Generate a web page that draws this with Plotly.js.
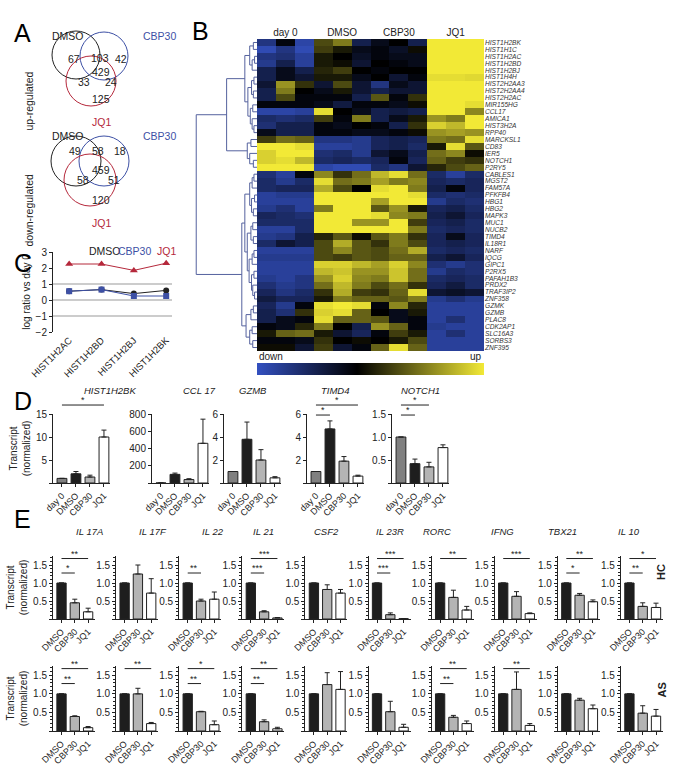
<!DOCTYPE html>
<html>
<head>
<meta charset="utf-8">
<script src="https://cdn.plot.ly/plotly-3.0.1.min.js"></script>
<style>
  body { margin: 0; background: #fff; }
  #fig { width: 677px; height: 766px; }
</style>
</head>
<body>
<div id="fig"></div>
<script>
// ---------- values ----------

// A: Venn counts. order: DMSO only, CBP30 only, JQ1 only, DMSO+CBP30, DMSO+JQ1, CBP30+JQ1, all three
var vennSets = ['DMSO', 'CBP30', 'JQ1'];
var upCounts = [67, 42, 125, 103, 33, 24, 429];
var downCounts = [49, 18, 120, 58, 58, 51, 459];

// C: log ratio vs day 0
var histGenes = ['HIST1H2AC', 'HIST1H2BD', 'HIST1H2BJ', 'HIST1H2BK'];
var histDMSO = [0.55, 0.65, 0.4, 0.6];
var histCBP30 = [0.55, 0.65, 0.25, 0.25];
var histJQ1 = [2.25, 2.25, 1.85, 2.3];
var refLines = [-1, 0, 1];

// B: heatmap, 3 replicates per group
var hmGroups = ['day 0', 'DMSO', 'CBP30', 'JQ1'];
var hmGenes = ['HIST1H2BK', 'HIST1H1C', 'HIST1H2AC', 'HIST1H2BD', 'HIST1H2BJ', 'HIST1H4H',
  'HIST2H2AA3', 'HIST2H2AA4', 'HIST2H2AC', 'MIR155HG', 'CCL17', 'AMICA1', 'HIST3H2A', 'RPP40',
  'MARCKSL1', 'CD83', 'IER5', 'NOTCH1', 'P2RY5', 'CABLES1', 'MGST2', 'FAM57A', 'PFKFB4', 'HBG1',
  'HBG2', 'MAPK3', 'MUC1', 'NUCB2', 'TIMD4', 'IL18R1', 'NARF', 'IQCG', 'GIPC1', 'P2RX5',
  'PAFAH1B3', 'PRDX2', 'TRAF3IP2', 'ZNF358', 'GZMK', 'GZMB', 'PLAC8', 'CDK2AP1', 'SLC16A3',
  'SORBS3', 'ZNF395'];
var hmValues = [
  [-0.5, -0.05, -0.65, 0.3, 0.5, -0.3, -0.1, 0, -0.3, 1, 1, 1],
  [-0.7, -0.5, -0.7, 0.25, 0.1, -0.1, -0.05, -0.15, 0.05, 1, 1, 1],
  [-0.5, -0.45, -0.6, 0.1, 0, -0.15, -0.05, -0.1, -0.1, 1, 1, 1],
  [-0.55, -0.3, -0.6, 0.1, 0.05, -0.2, 0, -0.05, -0.1, 1, 1, 1],
  [-0.3, -0.1, -0.3, 0.15, 0.25, 0, -0.05, 0, 0, 1, 1, 1],
  [-0.3, -0.1, -0.2, 0.1, 0.1, -0.1, 0, -0.2, -0.05, 0.9, 0.9, 0.88],
  [-0.2, 0.6, 0.2, -0.2, 0.3, -0.2, -0.5, -0.1, -0.2, 1, 1, 1],
  [-0.3, 0.5, 0, -0.1, 0.1, -0.2, -0.3, -0.2, -0.2, 1, 1, 1],
  [-0.3, 0.3, -0.05, -0.05, -0.05, -0.3, 0.35, -0.05, 0.2, 1, 1, 1],
  [-0.05, -0.05, -0.05, -0.1, -0.25, -0.05, -0.05, -0.1, 0.05, 0.95, 0.95, 0.9],
  [-0.65, -0.65, -0.6, 0.9, 0, -0.1, -0.3, -0.25, -0.3, 0.95, 0.95, 0.55],
  [-0.4, -0.45, -0.4, 0.25, -0.05, 0.5, -0.3, -0.1, 0.1, 0.6, 0.5, 0.95],
  [-0.45, -0.3, -0.3, -0.05, -0.1, 0, -0.05, -0.3, 0.2, 0.85, 0.75, 0.95],
  [-0.1, -0.3, -0.3, -0.05, -0.05, -0.1, -0.1, -0.05, 0.05, 0.6, 0.65, 0.6],
  [0.25, 0.45, 0.4, -0.5, -0.5, -0.55, -0.35, -0.3, -0.35, 0.5, 0.45, 0.9],
  [1, 0.95, 0.9, -0.6, -0.6, -0.55, -0.35, -0.3, -0.4, 0.1, 0.9, 0.35],
  [0.85, 0.95, 0.95, -0.45, -0.4, -0.55, -0.2, -0.1, -0.3, 0.45, 0.55, 0.05],
  [0.85, 0.9, 0.75, -0.4, -0.35, -0.4, -0.35, -0.05, -0.35, 0.4, 0.25, 0.2],
  [1, 1, 0.95, -0.65, -0.7, -0.7, -0.4, -0.5, -0.2, 0.15, 0.3, 0.4],
  [-0.45, -0.6, -0.05, 0.55, 0.2, 0.45, 0.75, 0.9, 0.45, -0.4, -0.6, -0.4],
  [-0.4, -0.55, -0.4, 0.9, 0.45, 0.5, 0.65, 0.5, 0.55, -0.35, -0.4, -0.35],
  [-0.4, -0.35, -0.35, 0.7, 0.3, 0, 0.9, 0.95, 0.5, -0.3, -0.05, -0.35],
  [-0.6, -0.55, -0.55, 1, 1, 1, 1, 1, 0.9, -0.4, -0.45, -0.4],
  [-0.6, -0.6, -0.6, 1, 1, 1, 0.65, 1, 0.95, -0.55, -0.4, -0.45],
  [-0.55, -0.45, -0.6, 0.5, 0.95, 1, 0.35, 0.6, 0.1, -0.35, -0.3, -0.4],
  [-0.35, -0.4, -0.45, 1, 1, 1, 0.9, 0.55, 0.5, -0.3, -0.2, -0.35],
  [-0.4, -0.4, -0.4, 0.95, 0.95, 0.6, 0.6, 0.95, 0.25, -0.35, -0.3, -0.4],
  [-0.6, -0.6, -0.4, 1, 1, 1, 1, 1, 0.5, -0.4, -0.35, -0.4],
  [-0.55, -0.5, -0.3, 0.15, 0.35, 0.05, 0.35, 0.5, 0.2, -0.35, -0.1, -0.35],
  [-0.4, -0.2, -0.3, 0.3, 0.7, 0.35, 0.2, 0.5, 0.3, -0.35, -0.3, -0.35],
  [-0.6, -0.6, -0.6, 0.3, 0.55, 0.35, 0.3, 0.45, 0.7, -0.4, -0.35, -0.4],
  [-0.55, -0.55, -0.55, 0.3, 0.25, 0.35, 0.3, 0.4, 0.4, -0.3, -0.2, -0.35],
  [-0.6, -0.6, -0.6, 0.85, 0.85, 0.75, 0.65, 0.85, 0.55, -0.45, -0.55, -0.45],
  [-0.6, -0.6, -0.6, 0.75, 0.8, 0.6, 0.6, 0.8, 0.45, -0.55, -0.4, -0.45],
  [-0.55, -0.6, -0.5, 0.6, 0.85, 0.55, 0.5, 0.8, 0.45, -0.4, -0.35, -0.4],
  [-0.45, -0.55, -0.5, 0.45, 0.75, 0.5, 0.3, 0.45, 0.2, -0.35, -0.25, -0.4],
  [-0.35, -0.5, -0.4, 0.2, 0.7, 0.25, 0.2, 0.4, 0.9, -0.2, -0.15, -0.2],
  [-0.25, -0.35, -0.35, 0.1, 0.5, 0.4, 0.4, 0.35, 0.5, -0.55, -0.45, -0.55],
  [-0.35, -0.55, -0.05, 0.9, 0.95, 0.9, -0.05, 0.55, 0.15, -0.6, -0.6, -0.6],
  [-0.3, -0.45, 0.2, 0.85, 0.9, 0.4, 0, -0.1, 0.1, -0.6, -0.6, -0.6],
  [-0.3, -0.1, -0.05, 0.9, 0.4, 0.4, 0.35, -0.1, -0.05, -0.6, -0.45, -0.6],
  [-0.05, -0.1, 0.15, 0.5, 0, -0.3, 0.6, 0.4, -0.05, -0.55, -0.6, -0.6],
  [0.1, 0.4, 0.45, 0.1, -0.2, -0.35, -0.05, 0.25, 0.1, -0.6, -0.45, -0.6],
  [-0.05, -0.05, -0.1, 0.2, 0, 0.05, 0, 0.1, 0.3, -0.6, -0.6, -0.6],
  [0.05, 0.05, -0.2, 0.25, -0.2, -0.05, 0.4, 0.9, 0.4, -0.6, -0.6, -0.6]
];
// row clustering: [height, left, right], leaves are row indices
var rowTree = [1.0,
  [0.5,
    [0.2,
      [0.12, [0.06, 0, 1], [0.08, [0.04, 2, 3], 4]],
      [0.15, [0.09, [0.05, 5, 6], [0.06, 7, 8]], [0.11, [0.07, 9, 10], [0.08, 11, [0.05, 12, 13]]]]],
    [0.16, [0.1, 14, 15], [0.12, 16, [0.06, 17, 18]]]],
  [0.25,
    [0.2,
      [0.12, [0.08, [0.05, 19, 20], 21], [0.09, [0.04, 22, 23], [0.06, 24, 25]]],
      [0.16, [0.1, [0.07, 26, 27], [0.06, 28, 29]],
        [0.13, [0.08, [0.05, 30, 31], 32], [0.09, [0.05, 33, 34], [0.07, 35, [0.04, 36, 37]]]]]],
    [0.18, [0.1, [0.06, 38, 39], 40], [0.12, [0.08, 41, 42], [0.07, 43, 44]]]]];

// D: transcript (normalized)
var dGroups = ['day 0', 'DMSO', 'CBP30', 'JQ1'];
var dGenes = ['HIST1H2BK', 'CCL 17', 'GZMB', 'TIMD4', 'NOTCH1'];
var dMean = [[1, 2.0, 1.3, 10], [1, 100, 40, 460], [1, 3.8, 2.0, 0.45], [1, 4.7, 1.9, 0.6], [1, 0.42, 0.35, 0.77]];
var dErr = [[0, 0.5, 0.4, 1.5], [0, 15, 10, 280], [0, 1.5, 0.9, 0.1], [0, 0.7, 0.4, 0.08], [0, 0.1, 0.1, 0.06]];
var dMax = [15, 800, 6, 6, 1.5];
var dStep = [5, 200, 2, 2, 0.5];
// significance: [panel, from, to, stars, level]
var dSig = [[0, 0, 3, '*', 1], [3, 0, 3, '*', 1], [3, 0, 1, '*', 0], [4, 0, 2, '*', 1], [4, 0, 1, '*', 0]];

// E: HC and AS donors
var eGenes = ['IL 17A', 'IL 17F', 'IL 22', 'IL 21', 'CSF2', 'IL 23R', 'RORC', 'IFNG', 'TBX21', 'IL 10'];
var eGroups = ['DMSO', 'CBP30', 'JQ1'];
var eRows = ['HC', 'AS'];
var hcMean = [[1, 0.45, 0.2], [1, 1.25, 0.72], [1, 0.5, 0.55], [1, 0.2, 0.03], [1, 0.82, 0.72],
  [1, 0.12, 0.01], [1, 0.6, 0.25], [1, 0.63, 0.15], [1, 0.66, 0.48], [1, 0.35, 0.32]];
var hcErr = [[0, 0.1, 0.1], [0, 0.25, 0.4], [0, 0.05, 0.2], [0, 0.03, 0.01], [0, 0.13, 0.1],
  [0, 0.05, 0], [0, 0.2, 0.1], [0, 0.13, 0.02], [0, 0.05, 0.05], [0, 0.1, 0.12]];
var asMean = [[1, 0.39, 0.09], [1, 1.0, 0.2], [1, 0.52, 0.17], [1, 0.25, 0.06], [1, 1.25, 1.12],
  [1, 0.52, 0.1], [1, 0.37, 0.2], [1, 1.12, 0.15], [1, 0.83, 0.6], [1, 0.48, 0.4]];
var asErr = [[0, 0.02, 0.03], [0, 0.15, 0.03], [0, 0.01, 0.1], [0, 0.05, 0.04], [0, 0.32, 0.48],
  [0, 0.28, 0.08], [0, 0.05, 0.07], [0, 0.47, 0.05], [0, 0.05, 0.1], [0, 0.2, 0.18]];
var hcSig = [[0, 0, 2, '**', 1], [0, 0, 1, '*', 0], [2, 0, 1, '**', 0], [3, 0, 2, '***', 1], [3, 0, 1, '***', 0],
  [5, 0, 2, '***', 1], [5, 0, 1, '***', 0], [6, 0, 2, '**', 1], [7, 0, 2, '***', 1], [8, 0, 2, '**', 1],
  [8, 0, 1, '*', 0], [9, 0, 2, '*', 1], [9, 0, 1, '**', 0]];
var asSig = [[0, 0, 2, '**', 1], [0, 0, 1, '**', 0], [1, 0, 2, '**', 1], [2, 0, 2, '*', 1], [2, 0, 1, '**', 0],
  [3, 0, 2, '**', 1], [3, 0, 1, '**', 0], [6, 0, 2, '**', 1], [6, 0, 1, '**', 0], [7, 0, 2, '**', 1]];

// ---------- drawing ----------
var W = 677, H = 766;
var FONT = 'Arial, "Liberation Sans", sans-serif';
var INK = '#222';
var BLUE = '#3d50a5';
var RED = '#b5283b';

function fx(x) { return x / W; }
function fy(y) { return 1 - y / H; }

var data = [];
var layout = {
  width: W, height: H,
  margin: {l: 0, r: 0, t: 0, b: 0},
  paper_bgcolor: '#fff', plot_bgcolor: 'rgba(0,0,0,0)',
  font: {family: FONT, size: 10, color: INK},
  showlegend: false, hovermode: false,
  shapes: [], annotations: []
};

function note(text, x, y, extra) {
  var a = {text: text, x: fx(x), y: fy(y), xref: 'paper', yref: 'paper', showarrow: false,
    font: {size: 10, color: INK}};
  for (var k in extra) a[k] = extra[k];
  layout.annotations.push(a);
}

// panel letters
[['A', 12, 17], ['B', 190, 15], ['C', 12, 247], ['D', 12, 401], ['E', 12, 535]].forEach(function (p) {
  note(p[0], p[1], p[2], {font: {size: 25, color: '#000'}});
});

// --- A: venn diagrams
function drawVenn(counts, g) {
  var colors = [INK, BLUE, RED];
  g.circles.forEach(function (c, i) {
    layout.shapes.push({type: 'circle', xref: 'paper', yref: 'paper',
      x0: fx(c[0] - c[2]), x1: fx(c[0] + c[2]), y0: fy(c[1] + c[2]), y1: fy(c[1] - c[2]),
      line: {color: colors[i], width: 1}});
  });
  counts.forEach(function (n, i) {
    note(String(n), g.spots[i][0], g.spots[i][1], {font: {size: 10.5, color: INK}});
  });
  note(vennSets[0], 50, g.labelY, {font: {size: 10.5, color: INK}});
  note(vennSets[1], 141, g.labelY, {font: {size: 10.5, color: BLUE}});
  note(vennSets[2], 90, g.jqY, {font: {size: 10.5, color: RED}});
  note(g.side, 20, g.sideY, {textangle: -90, font: {size: 10.5, color: INK}});
}
drawVenn(upCounts, {side: 'up-regulated', sideY: 70, labelY: 28, jqY: 114,
  circles: [[76, 55, 24], [104, 56, 24], [91, 81, 25]],
  spots: [[66, 51], [113, 51], [90, 91], [89, 50], [76, 74], [103, 74], [90, 64]]});
drawVenn(downCounts, {side: 'down-regulated', sideY: 172, labelY: 128, jqY: 215,
  circles: [[76, 161, 25], [104, 161, 25], [90, 180, 26]],
  spots: [[67, 143], [112, 143], [90, 192], [90, 143], [75, 172], [106, 172], [90, 162]]});

// --- C: histone line chart
[[histJQ1, RED, 'triangle-up', 7, 'JQ1'], [histDMSO, INK, 'circle', 6, 'DMSO'],
 [histCBP30, BLUE, 'square', 6, 'CBP30']].forEach(function (s) {
  data.push({type: 'scatter', mode: 'lines+markers', name: s[4], x: histGenes, y: s[0],
    xaxis: 'x', yaxis: 'y', line: {color: s[1], width: 1},
    marker: {color: s[1], symbol: s[2], size: s[3]}});
});
layout.xaxis = {domain: [fx(53), fx(172)], anchor: 'y', type: 'category', range: [-0.5, 3.18],
  showline: false, ticks: '', showgrid: false, zeroline: false, tickangle: -45,
  tickfont: {size: 9.5}};
layout.yaxis = {domain: [fy(332), fy(252)], anchor: 'x', range: [-2, 3], tickvals: [-2, -1, 0, 1, 2, 3],
  showline: true, linecolor: INK, ticks: 'outside', ticklen: 3, tickcolor: INK,
  showgrid: false, zeroline: false, tickfont: {size: 10},
  title: {text: 'log ratio vs day 0', font: {size: 10}, standoff: 3}};
refLines.forEach(function (v) {
  layout.shapes.push({type: 'line', xref: 'x domain', yref: 'y', x0: 0, x1: 1, y0: v, y1: v,
    layer: 'below', line: {color: '#999', width: 1}});
});
note(vennSets[0], 87, 243, {font: {size: 10.5, color: INK}});
note(vennSets[1], 116, 243, {font: {size: 10.5, color: BLUE}});
note(vennSets[2], 155, 243, {font: {size: 10.5, color: RED}});

// --- B: heatmap with row dendrogram
var nCols = hmValues[0].length, per = nCols / hmGroups.length;
var colIdx = [], rowIdx = [], groupCenters = [];
for (var c = 0; c < nCols; c++) colIdx.push(c);
for (var r = 0; r < hmGenes.length; r++) rowIdx.push(r);
hmGroups.forEach(function (g, i) { groupCenters.push(i * per + (per - 1) / 2); });
var zLo = -0.75, zHi = 0.95;
data.push({type: 'heatmap', z: hmValues, x: colIdx, y: rowIdx, xaxis: 'x2', yaxis: 'y2',
  zmin: zLo, zmax: zHi,
  colorscale: [[0, '#3350c0'], [-zLo / (zHi - zLo), '#000000'], [1, '#f2e936']],
  colorbar: {orientation: 'h', x: fx(370.5), xanchor: 'center', y: fy(363), yanchor: 'top',
    len: 227, lenmode: 'pixels', thickness: 12, thicknessmode: 'pixels', outlinewidth: 0,
    showticklabels: false, ticks: '', xpad: 0, ypad: 0}});
layout.xaxis2 = {domain: [fx(257), fx(484)], anchor: 'y2', side: 'top', range: [-0.5, nCols - 0.5],
  tickvals: groupCenters, ticktext: hmGroups, ticks: '', showline: false, showgrid: false,
  zeroline: false, tickfont: {size: 10}};
layout.yaxis2 = {domain: [fy(351), fy(39)], anchor: 'x2', side: 'right', range: [hmGenes.length - 0.5, -0.5],
  tickvals: rowIdx, ticktext: hmGenes.map(function (g) { return '<i>' + g + '</i>'; }),
  ticks: '', showline: false, showgrid: false, zeroline: false, tickfont: {size: 6.6, color: '#333'}};
note('down', 257, 357, {xanchor: 'left', font: {size: 10, color: INK}});
note('up', 484, 357, {xanchor: 'right', font: {size: 10, color: INK}});

var dendX = [], dendY = [];
function walk(node) {
  if (typeof node === 'number') return {h: 0, y: node};
  var a = walk(node[1]), b = walk(node[2]), h = node[0];
  dendX.push(a.h, h, h, b.h, null);
  dendY.push(a.y, a.y, b.y, b.y, null);
  return {h: h, y: (a.y + b.y) / 2};
}
walk(rowTree);
data.push({type: 'scatter', mode: 'lines', x: dendX, y: dendY, xaxis: 'x3', yaxis: 'y2',
  line: {color: '#55629e', width: 1}});
layout.xaxis3 = {domain: [fx(195), fx(257)], anchor: 'y2', range: [1.02, 0], visible: false};

// --- D and E: bar panels
function fmt(v, step) { return step < 1 ? v.toFixed(1) : String(v); }

function barPanel(n, cats, mean, err, colors, xd, yd, catPx, yTop, tickMax, step, minor, yTitle) {
  var ax = 'x' + n, ay = 'y' + n;
  data.push({type: 'bar', x: cats, y: mean, xaxis: ax, yaxis: ay, width: 0.7,
    marker: {color: colors, line: {color: INK, width: 1}},
    error_y: {type: 'data', array: err, arrayminus: err.map(function () { return 0; }),
      symmetric: false, color: INK, thickness: 1, width: 2.5}});
  var tv = [], tt = [];
  for (var k = 0; k * step <= tickMax + 1e-9; k++) {
    tv.push(k * step);
    tt.push(k === 0 ? '' : fmt(k * step, step));
  }
  layout['xaxis' + n] = {domain: [fx(xd[0]), fx(xd[1])], anchor: ay, type: 'category',
    range: [-0.64, (xd[1] - xd[0]) / catPx - 0.64], showline: true, linecolor: INK,
    ticks: 'outside', ticklen: 3, tickcolor: INK, tickangle: -45, tickfont: {size: 9},
    showgrid: false, zeroline: false};
  var ya = {domain: [fy(yd[1]), fy(yd[0])], anchor: ax, range: [0, yTop], tickvals: tv, ticktext: tt,
    showline: true, linecolor: INK, ticks: 'outside', ticklen: 3, tickcolor: INK,
    showgrid: false, zeroline: false, tickfont: {size: 10}};
  if (minor) ya.minor = {tickmode: 'linear', tick0: 0, dtick: minor, ticks: 'outside', ticklen: 2, tickcolor: INK};
  if (yTitle) ya.title = {text: 'Transcript<br>(normalized)', font: {size: 10}, standoff: 3};
  layout['yaxis' + n] = ya;
}

function sig(n, from, to, stars, level) {
  layout.shapes.push({type: 'line', xref: 'x' + n, yref: 'y' + n + ' domain', x0: from, x1: to,
    y0: level, y1: level, line: {color: INK, width: 1}});
  layout.annotations.push({text: stars, xref: 'x' + n, yref: 'y' + n + ' domain', x: (from + to) / 2,
    y: level, yanchor: 'bottom', yshift: -2, showarrow: false, font: {size: 9, color: INK}});
}

var dCols = ['#808080', '#1e1e1e', '#b4b4b4', '#ffffff'];
var dLeft = [53, 152, 224, 307, 392];
var dLevels = [0.985, 1.13];
dGenes.forEach(function (g, i) {
  var xd = [dLeft[i], dLeft[i] + 57];
  barPanel(4 + i, dGroups, dMean[i], dErr[i], dCols, xd, [414, 483], 14, dMax[i], dMax[i], dStep[i], 0, i === 0);
  note('<i>' + g + '</i>', (xd[0] + xd[1]) / 2, 390, {font: {size: 9.5, color: INK}});
});
dSig.forEach(function (s) { sig(4 + s[0], s[1], s[2], s[3], dLevels[s[4]]); });

var eCols = ['#1e1e1e', '#b4b4b4', '#ffffff'];
var eTop = [556, 666], eBottom = [619, 731];
var eLevels = [0.73, 0.96];
[[hcMean, hcErr, hcSig], [asMean, asErr, asSig]].forEach(function (row, r) {
  eGenes.forEach(function (g, i) {
    var x0 = 53 + 63.1 * i;
    barPanel(9 + r * 10 + i, eGroups, row[0][i], row[1][i], eCols, [x0, x0 + 42], [eTop[r], eBottom[r]],
      13.3, 1.75, 1.5, 0.5, 0.1, i === 0);
    if (r === 0) note('<i>' + g + '</i>', x0 + 21, 539, {font: {size: 9.5, color: INK}});
  });
  row[2].forEach(function (s) { sig(9 + r * 10 + s[0], s[1], s[2], s[3], eLevels[s[4]]); });
  note('<b>' + eRows[r] + '</b>', 669, r === 0 ? 582 : 700, {textangle: -90, font: {size: 11, color: INK}});
});

Plotly.newPlot('fig', data, layout, {displayModeBar: false, staticPlot: true});
</script>
</body>
</html>
